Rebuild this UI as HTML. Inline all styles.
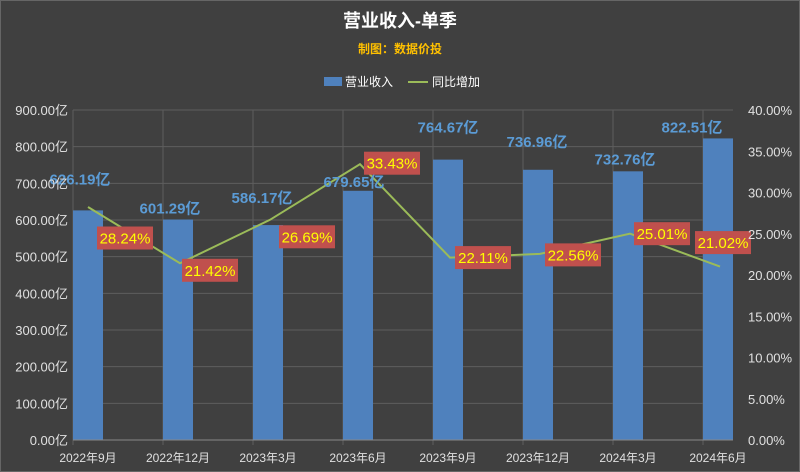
<!DOCTYPE html>
<html><head><meta charset="utf-8"><style>
body{margin:0;background:#404040;}
svg{display:block;font-family:"Liberation Sans","Noto Sans CJK SC",sans-serif;}
</style></head><body>
<svg id="c" width="800" height="472">
<rect x="0.5" y="0.5" width="799" height="471" fill="#404040" stroke="#666"/>
<text x="400" y="27" text-anchor="middle" fill="#fff" font-size="18" font-weight="bold">营业收入-单季</text>
<text x="400" y="53" text-anchor="middle" fill="#ffc000" font-size="12" font-weight="bold">制图：数据价投</text>
<g>
<rect x="324" y="77" width="18" height="9" fill="#4f81bd"/>
<text x="345" y="86" fill="#fff" font-size="12">营业收入</text>
<line x1="408" y1="82" x2="428" y2="82" stroke="#9bbb59" stroke-width="2"/>
<text x="432" y="86" fill="#fff" font-size="12">同比增加</text>
</g>
<g id="grid"></g><g id="bars"></g><g id="line"></g><g id="labels"></g><g id="axes"></g>
</svg>
<script>
const categories=["2022年9月","2022年12月","2023年3月","2023年6月","2023年9月","2023年12月","2024年3月","2024年6月"];
const revenue=[626.19,601.29,586.17,679.65,764.67,736.96,732.76,822.51];
const yoy=[28.24,21.42,26.69,33.43,22.11,22.56,25.01,21.02];
const leftTicks=[0,100,200,300,400,500,600,700,800,900];
const rightTicks=[0,5,10,15,20,25,30,35,40];
const X0=73,X1=733,Y0=440,Y1=110,STEP=90;
const NS="http://www.w3.org/2000/svg";
function yL(v){return Y0-(v/900)*(Y0-Y1);}
function yR(v){return Y0-(v/40)*(Y0-Y1);}
function xc(i){return X0+15+i*STEP;}
function mk(t,a,p){const e=document.createElementNS(NS,t);for(const k in a)e.setAttribute(k,a[k]);document.getElementById(p).appendChild(e);return e;}
leftTicks.forEach(v=>{
 const l=mk('line',{x1:X0,x2:X1,y1:yL(v),y2:yL(v),stroke:'#5e5e5e','stroke-width':1},'grid');
 
 
 const t=mk('text',{x:68,y:yL(v)+5,'text-anchor':'end',fill:'#e0e0e0','font-size':13},'axes');
 t.textContent=v.toFixed(2)+'亿';
 
 
});
rightTicks.forEach(v=>{
 const t=mk('text',{x:748,y:yR(v)+5,fill:'#e0e0e0','font-size':13},'axes');
 t.textContent=v.toFixed(2)+'%';
 
 
});
categories.forEach((c,i)=>{
 const gx=X0+i*STEP;
 const l=mk('line',{x1:gx,x2:gx,y1:Y1,y2:Y0+5,stroke:'#5e5e5e'},'grid');
 
 
 const t=mk('text',{x:xc(i),y:462,'text-anchor':'middle',fill:'#e0e0e0','font-size':12},'axes');
 t.textContent=c;
 
 
});
const ax=mk('line',{x1:X0,x2:X1,y1:Y0,y2:Y0,stroke:'#888'},'axes');


revenue.forEach((v,i)=>{
 const b=mk('rect',{x:xc(i)-15,y:yL(v),width:30,height:Y0-yL(v),fill:'#4f81bd'},'bars');
 
 
});
const pts=yoy.map((v,i)=>(xc(i)+(i?2:0))+','+yR(v)).join(' ');
const pl=mk('polyline',{points:pts,fill:'none',stroke:'#9bbb59','stroke-width':2},'line');


const revDx=[-8,-8,-6,-4,0,-1,-3,-26];
const revDy=[-26,-6,-22,-4,-27,-23,-7,-6];
revenue.forEach((v,i)=>{
 const t=mk('text',{x:xc(i)+revDx[i],y:yL(v)+revDy[i],'text-anchor':'middle',fill:'#5b9bd5','font-size':15,'font-weight':'bold'},'labels');
 t.textContent=v.toFixed(2)+'亿';
 
 
});
const pDx=[37,32,39,34,35,35,34,5];
const pDy=[31,7,17,-1,0,1,0,-24];
yoy.forEach((v,i)=>{
 const cx=xc(i)+pDx[i],cy=yR(v)+pDy[i];
 const r=mk('rect',{x:cx-28,y:cy-11.5,width:56,height:23,fill:'#c0504d'},'labels');
 
 
 const t=mk('text',{x:cx,y:cy+5.5,'text-anchor':'middle',fill:'#ffff00','font-size':15},'labels');
 t.textContent=v.toFixed(2)+'%';
 
 
});
</script>
</body></html>
